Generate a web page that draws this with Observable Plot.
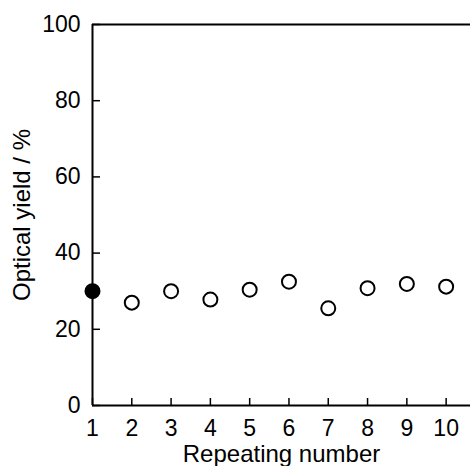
<!DOCTYPE html>
<html>
<head>
<meta charset="utf-8">
<script src="https://cdn.jsdelivr.net/npm/d3@7"></script>
<script src="https://cdn.jsdelivr.net/npm/@observablehq/plot@0.6"></script>
<style>
  html, body { margin: 0; padding: 0; background: #fff; }
  body { width: 470px; height: 466px; overflow: hidden; }
</style>
</head>
<body>
<div id="chart"></div>
<script>
const runs = [1, 2, 3, 4, 5, 6, 7, 8, 9, 10];
const yields = [30.0, 27.0, 30.0, 27.8, 30.4, 32.5, 25.5, 30.8, 31.9, 31.2];
const xTicks = [1, 2, 3, 4, 5, 6, 7, 8, 9, 10];
const yTicks = [0, 20, 40, 60, 80, 100];
const xDomain = [1, 10.62];
const yDomain = [0, 100];
const xLabel = "Repeating number";
const yLabel = "Optical yield / %";

const W = 470, H = 466;
const mL = 92, mT = 24, mB = 61, mR = 0;
const plotW = W - mL - mR, plotH = H - mT - mB;

const data = runs.map((r, i) => ({run: r, yield: yields[i], first: i === 0}));

const chart = Plot.plot({
  width: W,
  height: H,
  marginLeft: mL,
  marginTop: mT,
  marginBottom: mB,
  marginRight: mR,
  style: {fontFamily: "'Liberation Sans', Arial, Helvetica, sans-serif", fontSize: "23px", color: "black", background: "white"},
  x: {domain: xDomain},
  y: {domain: yDomain},
  marks: [
    Plot.axisY(yTicks, {tickSize: 0, tickPadding: 12, fontSize: 23, label: null}),
    Plot.axisX(xTicks, {tickSize: 0, tickPadding: 14, fontSize: 23, label: null}),
    Plot.tickY(yTicks, {y: d => d, insetRight: plotW - 8, stroke: "black", strokeWidth: 1.5}),
    Plot.tickX(xTicks, {x: d => d, insetTop: plotH - 7, stroke: "black", strokeWidth: 1.5}),
    Plot.ruleY(yDomain, {y: d => d, stroke: "black", strokeWidth: 2}),
    Plot.ruleX([xDomain[0]], {x: d => d, stroke: "black", strokeWidth: 2}),
    Plot.dot(data, {x: "run", y: "yield", r: 7, stroke: "black", strokeWidth: 2,
      fill: d => d.first ? "black" : "white"}),
    Plot.text([xLabel], {text: d => d, frameAnchor: "bottom", textAnchor: "middle", lineAnchor: "top", dy: 39, fontSize: 24, fill: "black"}),
    Plot.text([yLabel], {text: d => d, frameAnchor: "left", textAnchor: "middle", rotate: -90, dx: -70, fontSize: 24, fill: "black"})
  ]
});
document.getElementById("chart").appendChild(chart);
</script>
</body>
</html>
